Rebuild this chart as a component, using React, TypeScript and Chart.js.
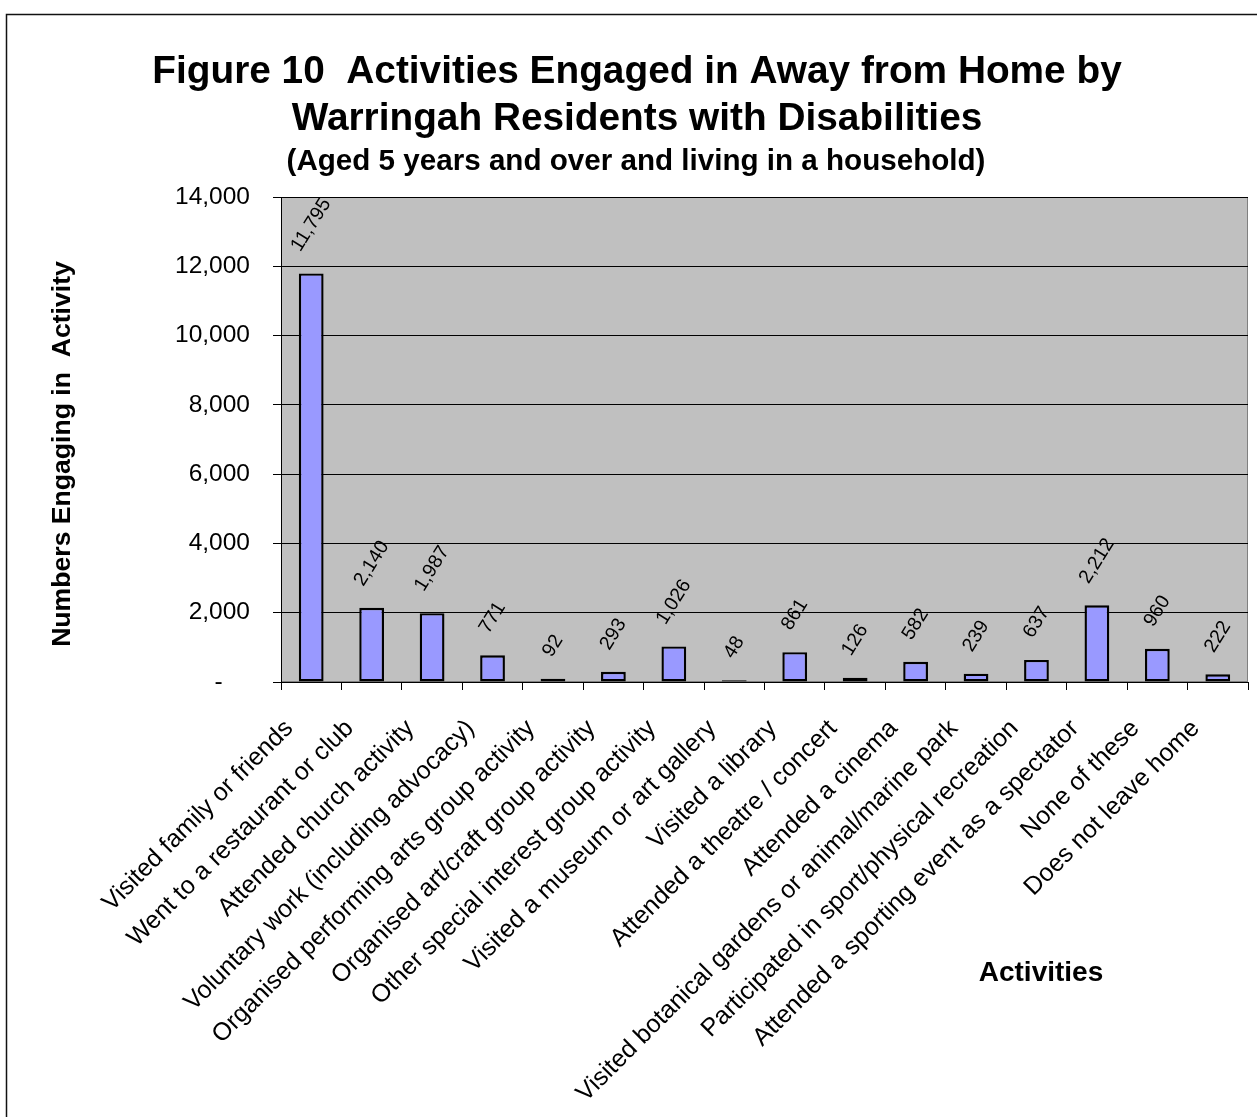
import React, { useEffect, useRef } from "react";
import { Chart, registerables } from "chart.js";

Chart.register(...registerables);

const categories: string[] = [
  "Visited family or friends",
  "Went to a restaurant or club",
  "Attended church activity",
  "Voluntary work (including advocacy)",
  "Organised performing arts group activity",
  "Organised art/craft group activity",
  "Other special interest group activity",
  "Visited a museum or art gallery",
  "Visited a library",
  "Attended a theatre / concert",
  "Attended a cinema",
  "Visited botanical gardens or animal/marine park",
  "Participated in sport/physical recreation",
  "Attended a sporting event as a spectator",
  "None of these",
  "Does not leave home",
];

const values: number[] = [11795, 2140, 1987, 771, 92, 293, 1026, 48, 861, 126, 582, 239, 637, 2212, 960, 222];

const yMin = 0;
const yMax = 14000;
const yStep = 2000;

const titleLines: string[] = [
  "Figure 10  Activities Engaged in Away from Home by",
  "Warringah Residents with Disabilities",
];
const subtitle = "(Aged 5 years and over and living in a household)";
const yAxisTitle = "Numbers Engaging in  Activity";
const xAxisTitle = "Activities";

const FONT = "'Liberation Sans', Arial, Helvetica, sans-serif";

export default function App() {
  const ref = useRef<HTMLCanvasElement | null>(null);

  useEffect(() => {
    document.body.style.margin = "0";
    const canvas = ref.current;
    if (!canvas) return;

    const decor = {
      id: "decor",
      beforeDraw(chart: any) {
        const { ctx, chartArea: a } = chart;
        ctx.save();
        ctx.fillStyle = "#ffffff";
        ctx.fillRect(0, 0, chart.width, chart.height);
        ctx.fillStyle = "#C0C0C0";
        ctx.fillRect(a.left, a.top, a.right - a.left, a.bottom - a.top);
        ctx.strokeStyle = "#808080";
        ctx.lineWidth = 1;
        ctx.strokeRect(a.left + 0.5, a.top + 0.5, a.right - a.left - 1, a.bottom - a.top - 1);
        ctx.strokeStyle = "#111";
        ctx.lineWidth = 1.5;
        ctx.strokeRect(6.5, 14.5, chart.width + 50, chart.height + 50);
        ctx.restore();
      },
      afterDraw(chart: any) {
        const { ctx } = chart;
        ctx.save();
        ctx.fillStyle = "#000";
        ctx.textAlign = "center";
        ctx.textBaseline = "alphabetic";
        ctx.font = `bold 38.8px ${FONT}`;
        ctx.fillText(titleLines[0], 637, 83);
        ctx.fillText(titleLines[1], 637, 130);
        ctx.font = `bold 29.6px ${FONT}`;
        ctx.fillText(subtitle, 636, 170);
        ctx.font = `bold 28px ${FONT}`;
        ctx.fillText(xAxisTitle, 1041, 981);
        ctx.translate(70, 454);
        ctx.rotate(-Math.PI / 2);
        ctx.font = `bold 26.6px ${FONT}`;
        ctx.fillText(yAxisTitle, 0, 0);
        ctx.restore();
      },
    };

    const barLabels = {
      id: "barLabels",
      afterDatasetsDraw(chart: any) {
        const { ctx } = chart;
        const meta = chart.getDatasetMeta(0);
        const fs = 19.5;
        const ang = (58 * Math.PI) / 180;
        ctx.save();
        ctx.font = `${fs}px ${FONT}`;
        ctx.fillStyle = "#000";
        ctx.textAlign = "center";
        ctx.textBaseline = "middle";
        meta.data.forEach((el: any, i: number) => {
          const txt = values[i].toLocaleString("en-US");
          const w = ctx.measureText(txt).width;
          const h = 0.72 * fs;
          const ext = w * Math.sin(ang) + h * Math.cos(ang);
          const cy = el.y - 20 - ext / 2;
          ctx.save();
          ctx.translate(el.x, cy);
          ctx.rotate(-ang);
          ctx.fillText(txt, 0, 0);
          ctx.restore();
        });
        ctx.restore();
      },
    };

    const chart = new Chart(canvas, {
      type: "bar",
      data: {
        labels: categories,
        datasets: [
          {
            data: values,
            backgroundColor: "#9999FF",
            borderColor: "#000000",
            borderWidth: 2.4,
            borderSkipped: false,
            barPercentage: 0.41,
            categoryPercentage: 1,
          },
        ],
      },
      options: {
        responsive: false,
        animation: false,
        maintainAspectRatio: false,
        layout: { padding: { top: 197, right: 9, bottom: 0, left: 0 } },
        plugins: {
          legend: { display: false },
          title: { display: false },
          tooltip: { enabled: false },
        },
        scales: {
          x: {
            type: "category",
            offset: true,
            grid: {
              offset: true,
              drawOnChartArea: false,
              drawTicks: true,
              tickLength: 8,
              color: "#000",
              lineWidth: 1,
            },
            border: { display: true, color: "#000", width: 1 },
            ticks: {
              autoSkip: false,
              maxRotation: 45,
              minRotation: 45,
              padding: 24,
              labelOffset: -22,
              color: "#000",
              font: { family: FONT, size: 25 },
            },
            afterFit(scale: any) {
              scale.height = 1117 - 682;
              scale.paddingLeft = 0;
              scale.paddingRight = 0;
            },
          },
          y: {
            min: yMin,
            max: yMax,
            grid: {
              color: "#000",
              lineWidth: 1,
              drawTicks: true,
              tickLength: 8,
            },
            border: { display: true, color: "#000", width: 1 },
            ticks: {
              stepSize: yStep,
              padding: 23,
              color: "#000",
              font: { family: FONT, size: 24.5 },
              callback: (v: any) =>
                Number(v) === 0 ? "-\u00A0\u00A0\u00A0\u00A0" : Number(v).toLocaleString("en-US"),
            },
            afterFit(scale: any) {
              scale.width = 281;
              scale.paddingTop = 0;
              scale.paddingBottom = 0;
            },
          },
        },
      },
      plugins: [decor, barLabels],
    } as any);

    return () => chart.destroy();
  }, []);

  return (
    <div style={{ width: 1257, height: 1117, position: "relative" }}>
      <canvas ref={ref} width={1257} height={1117} style={{ display: "block" }} />
    </div>
  );
}
